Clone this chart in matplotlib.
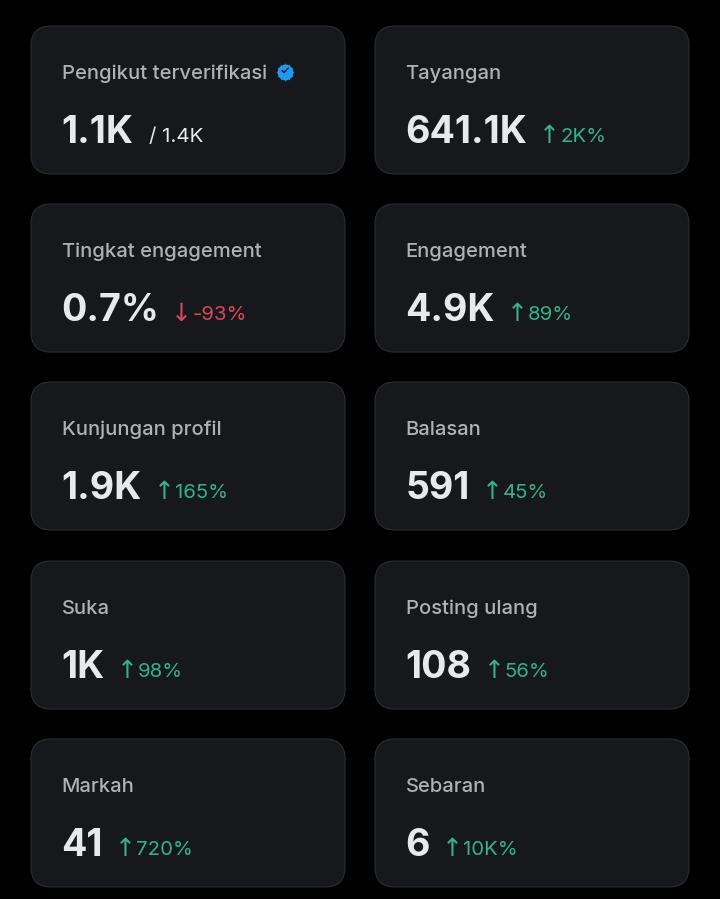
from matplotlib import pyplot as plt
from matplotlib.patches import FancyBboxPatch

titles = ['Pengikut terverifikasi', 'Tayangan', 'Tingkat engagement', 'Engagement',
          'Kunjungan profil', 'Balasan', 'Suka', 'Posting ulang', 'Markah', 'Sebaran']
values = ['1.1K', '641.1K', '0.7%', '4.9K', '1.9K', '591', '1K', '108', '41', '6']
changes = ['/ 1.4K', '2K%', '-93%', '89%', '165%', '45%', '98%', '56%', '720%', '10K%']
arrows = ['', '↑', '↓', '↑', '↑', '↑', '↑', '↑', '↑', '↑']

card_x = [31, 375]
card_y = [26, 204, 382, 561, 739]
card_w = 314
card_h = 148

bg = '#000000'
card_bg = '#16181c'
card_edge = '#2b2e31'
title_col = '#aeb1b5'
value_col = '#e7e9ea'
up_col = '#2fb586'
down_col = '#e0455a'

plt.rcParams['font.family'] = ['Inter', 'DejaVu Sans']

fig = plt.figure(figsize=(7.2, 8.99), dpi=100, facecolor=bg)
ax = fig.add_axes([0, 0, 1, 1])
ax.set_xlim(0, 720)
ax.set_ylim(899, 0)
ax.axis('off')

renderer = fig.canvas.get_renderer()


def right_edge(txt):
    box = txt.get_window_extent(renderer)
    return ax.transData.inverted().transform((box.x1, box.y0))[0]


for i in range(len(titles)):
    x0 = card_x[i % 2]
    y0 = card_y[i // 2]
    ax.add_patch(FancyBboxPatch((x0 + 20, y0 + 20), card_w - 40, card_h - 40,
                                boxstyle='round,pad=20,rounding_size=20',
                                fc=card_bg, ec=card_edge, lw=0.8))
    tx = x0 + 31
    title = ax.text(tx - 0.5, y0 + 53, titles[i], color=title_col, fontsize=14.5,
                    fontweight='medium', va='baseline')
    big = ax.text(tx - 0.5, y0 + 117, values[i], color=value_col, fontsize=27,
                  fontweight='bold', va='baseline')
    end = right_edge(big)
    if i == 0:
        # verified badge next to the title
        bx = right_edge(title) + 18
        ax.scatter([bx], [y0 + 46], s=190, marker=(12, 1, 0), color='#1d9bf0', lw=0, zorder=3)
        ax.scatter([bx], [y0 + 46], s=130, marker='o', color='#1d9bf0', lw=0, zorder=3)
        ax.text(bx, y0 + 46, '✓', color='#10243a', fontsize=8, fontweight='bold',
                ha='center', va='center', zorder=4)
        ax.text(end + 16, y0 + 116, changes[i], color=value_col, fontsize=14.8, va='baseline')
    else:
        col = up_col if arrows[i] == '↑' else down_col
        arr = ax.text(end + 12, y0 + 117, arrows[i], color=col, fontsize=18,
                      family=['DejaVu Sans'], va='baseline')
        ax.text(right_edge(arr), y0 + 116, changes[i], color=col, fontsize=14.7, va='baseline')

fig.savefig('out.png', dpi=100, facecolor=bg)
